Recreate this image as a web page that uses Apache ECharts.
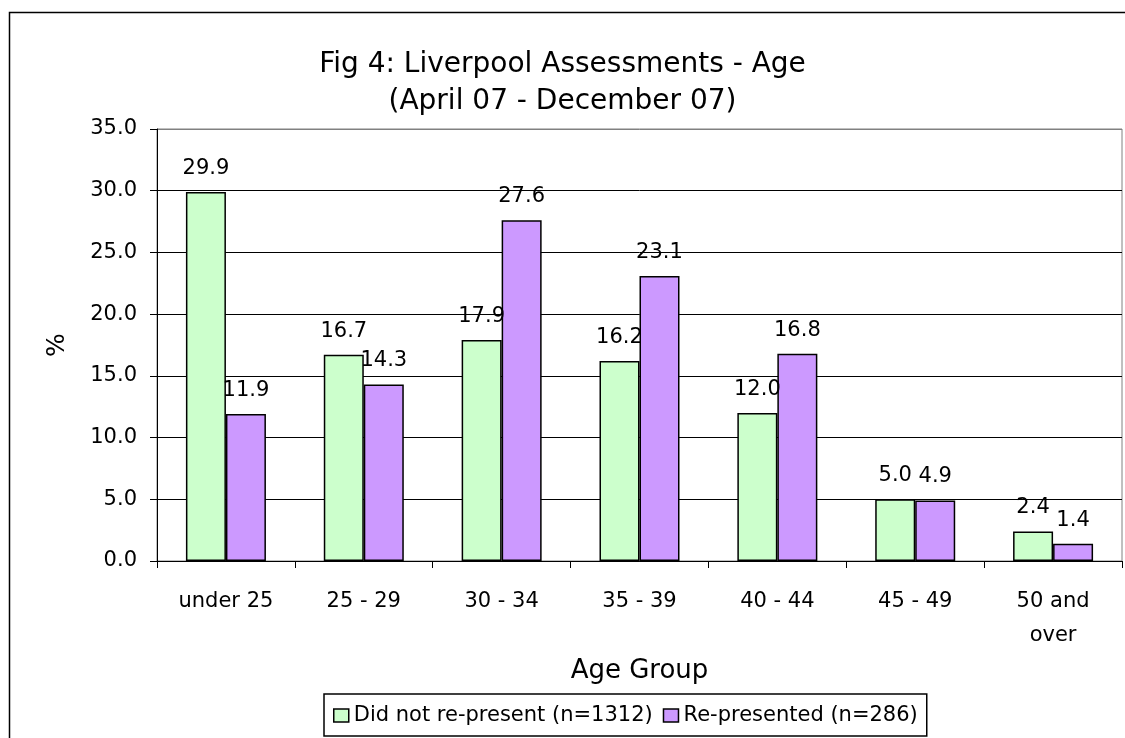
<!DOCTYPE html>
<html>
<head>
<meta charset="utf-8">
<script src="https://cdn.jsdelivr.net/npm/echarts@6/dist/echarts.min.js"></script>
<style>
html,body{margin:0;padding:0;background:#fff;}
#chart{width:1125px;height:738px;}
</style>
</head>
<body>
<div id="chart"></div>
<script>
const categories = ['under 25', '25 - 29', '30 - 34', '35 - 39', '40 - 44', '45 - 49', '50 and\nover'];
const didNotRepresent = [29.9, 16.7, 17.9, 16.2, 12.0, 5.0, 2.4];
const represented = [11.9, 14.3, 27.6, 23.1, 16.8, 4.9, 1.4];
const seriesNames = ['Did not re-present (n=1312)', 'Re-presented (n=286)'];
const titleLines = 'Fig 4: Liverpool Assessments - Age\n(April 07 - December 07)';

const FONT = 'DejaVu Sans';
const chart = echarts.init(document.getElementById('chart'), null, {renderer: 'canvas'});

const labelOpt = {
  show: true, position: 'top', distance: 13,
  color: '#000', fontFamily: FONT, fontSize: 21,
  formatter: p => p.value.toFixed(1)
};

chart.setOption({
  backgroundColor: '#fff',
  animation: false,
  title: {
    text: titleLines,
    left: 'center', top: 46, padding: 0,
    textStyle: {fontFamily: FONT, fontSize: 28, fontWeight: 'normal', color: '#000', lineHeight: 37}
  },
  graphic: [{
    type: 'rect', silent: true, z: -1,
    shape: {x: 9.5, y: 12.5, width: 1300, height: 900},
    style: {fill: 'none', stroke: '#000', lineWidth: 1.5}
  }],
  legend: {
    left: 324, top: 694,
    padding: [11, 9, 10, 9],
    itemGap: 10,
    itemWidth: 15, itemHeight: 13,
    icon: 'rect',
    borderColor: '#000', borderWidth: 1.5, borderRadius: 0,
    itemStyle: {borderColor: '#000', borderWidth: 1.5},
    textStyle: {fontFamily: FONT, fontSize: 21, color: '#000'},
    data: seriesNames
  },
  grid: {
    left: 157, right: 3, top: 129, bottom: 177,
    show: true, borderColor: '#808080', borderWidth: 1, backgroundColor: 'transparent'
  },
  xAxis: {
    type: 'category',
    data: categories,
    name: 'Age Group',
    nameLocation: 'middle',
    nameGap: 80,
    nameTextStyle: {fontFamily: FONT, fontSize: 26, color: '#000'},
    axisLine: {lineStyle: {color: '#000', width: 1}},
    axisTick: {show: true, length: 7, lineStyle: {color: '#000'}},
    axisLabel: {fontFamily: FONT, fontSize: 21, color: '#000', margin: 24, lineHeight: 34, interval: 0}
  },
  yAxis: {
    type: 'value',
    min: 0, max: 35, interval: 5,
    name: '%',
    nameLocation: 'middle',
    nameGap: 87,
    nameTextStyle: {fontFamily: FONT, fontSize: 25, color: '#000'},
    axisLine: {show: true, lineStyle: {color: '#000', width: 1}},
    axisTick: {show: true, length: 7, lineStyle: {color: '#000'}},
    axisLabel: {fontFamily: FONT, fontSize: 21, color: '#000', margin: 20, formatter: v => v.toFixed(1)},
    splitLine: {show: true, lineStyle: {color: ['#000','#000','#000','#000','#000','#000','#000','#808080'], width: 1}}
  },
  series: [
    {
      name: seriesNames[0], type: 'bar', data: didNotRepresent,
      barWidth: 40, barGap: '0%',
      itemStyle: {color: '#CCFFCC', borderColor: '#000', borderWidth: 1.5},
      label: labelOpt
    },
    {
      name: seriesNames[1], type: 'bar', data: represented,
      barWidth: 40, barGap: '0%',
      itemStyle: {color: '#CC99FF', borderColor: '#000', borderWidth: 1.5},
      label: labelOpt
    }
  ]
});
</script>
</body>
</html>
